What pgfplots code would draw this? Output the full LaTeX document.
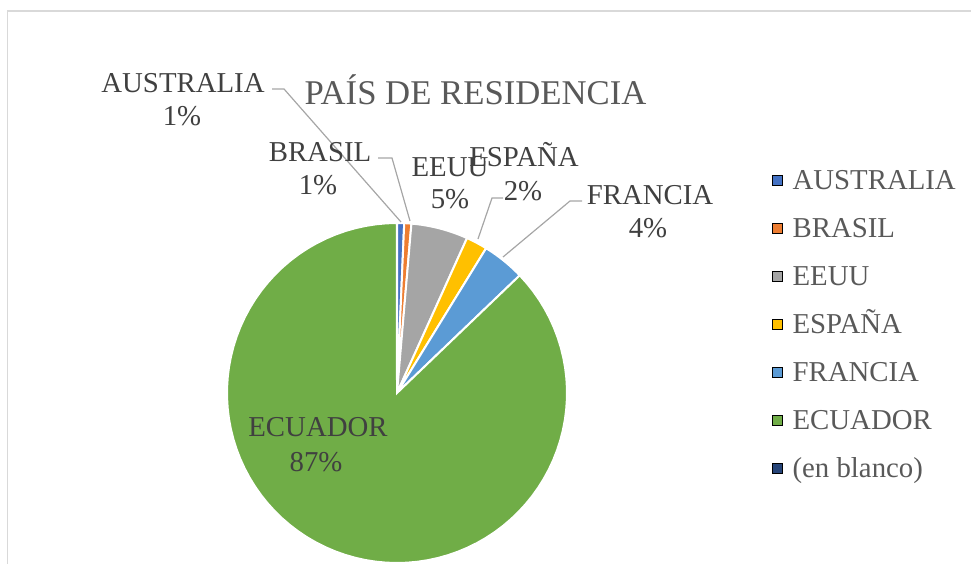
\documentclass[border=0pt]{standalone}
\usepackage{fontspec}
\setmainfont{Liberation Serif}
\usepackage{pgfplots}
\pgfplotsset{compat=1.18}
\definecolor{cAus}{HTML}{4472C4}
\definecolor{cBra}{HTML}{ED7D31}
\definecolor{cEEUU}{HTML}{A5A5A5}
\definecolor{cEsp}{HTML}{FFC000}
\definecolor{cFra}{HTML}{5B9BD5}
\definecolor{cEcu}{HTML}{70AD47}
\definecolor{cBla}{HTML}{264478}
\definecolor{labtext}{HTML}{404040}
\definecolor{legtext}{HTML}{595959}
\definecolor{leader}{HTML}{A6A6A6}
\definecolor{cFrame}{HTML}{D9D9D9}
% total count of respondents
\def\total{148}
% #1 = cumulative count before slice, #2 = count of slice, #3 = colour
\newcommand\slice[3]{%
  \addplot[fill=#3, draw=white, line width=2pt, domain=0:1, samples=90, forget plot]
    ({397+170*cos(90-(#1+#2*x)*360/\total)}, {171+170*sin(90-(#1+#2*x)*360/\total)})
    -- (axis cs:397,171) -- cycle;
}
\pgfplotsset{sq/.style={legend image code/.code={\fill[##1] (0pt,-5pt) rectangle (10pt,5pt);}}}
\tikzset{lab/.style={font=\fontsize{28.8}{34}\selectfont, text=labtext, inner sep=0pt, anchor=base}}
\begin{document}
\begin{tikzpicture}
\begin{axis}[
  scale only axis, width=971pt, height=564pt,
  xmin=0, xmax=971, ymin=0, ymax=564,
  hide axis, clip=false,
  legend cell align=left,
  legend style={at={(axis cs:772,393)}, anchor=north west, draw=none, fill=none,
    inner sep=0pt, row sep=30pt, column sep=10pt,
    nodes={inner sep=0pt, text height=18pt, text depth=0pt,
      font=\fontsize{28.8}{34}\selectfont, text=legtext}},
]
\coordinate (BL) at (axis cs:0,0);
\coordinate (TR) at (axis cs:971,564);
% frame
\addplot[cFrame, line width=1.2pt, forget plot] coordinates {(7.5,0) (7.5,553) (971,553)};
% pie slices (counts)
\slice{0}{1}{cAus}
\slice{1}{1}{cBra}
\slice{2}{8}{cEEUU}
\slice{10}{3}{cEsp}
\slice{13}{6}{cFra}
\slice{19}{129}{cEcu}
% leader lines
\addplot[leader, line width=1.2pt, forget plot] coordinates {(272,475) (284,475) (401,342)};
\addplot[leader, line width=1.2pt, forget plot] coordinates {(378,406) (392,406) (410,343)};
\addplot[leader, line width=1.2pt, forget plot] coordinates {(503,366) (492,366) (478,325)};
\addplot[leader, line width=1.2pt, forget plot] coordinates {(582,363) (570,363) (503,307)};
% data labels
\node[lab] at (axis cs:183,471) {AUSTRALIA};
\node[lab] at (axis cs:182,438) {1\%};
\node[lab] at (axis cs:320,402) {BRASIL};
\node[lab] at (axis cs:318,369) {1\%};
\node[lab] at (axis cs:450,387) {EEUU};
\node[lab] at (axis cs:450,355) {5\%};
\node[lab] at (axis cs:524,397) {ESPAÑA};
\node[lab] at (axis cs:523,363) {2\%};
\node[lab] at (axis cs:650,359) {FRANCIA};
\node[lab] at (axis cs:648,326) {4\%};
\node[lab] at (axis cs:318,127) {ECUADOR};
\node[lab] at (axis cs:316,92) {87\%};
% title
\node[font=\fontsize{34.7}{40}\selectfont, text=legtext, inner sep=0pt, anchor=base] at (axis cs:475.5,459) {PAÍS DE RESIDENCIA};
% legend
\addlegendimage{sq, fill=cAus}\addlegendentry{AUSTRALIA}
\addlegendimage{sq, fill=cBra}\addlegendentry{BRASIL}
\addlegendimage{sq, fill=cEEUU}\addlegendentry{EEUU}
\addlegendimage{sq, fill=cEsp}\addlegendentry{ESPAÑA}
\addlegendimage{sq, fill=cFra}\addlegendentry{FRANCIA}
\addlegendimage{sq, fill=cEcu}\addlegendentry{ECUADOR}
\addlegendimage{sq, fill=cBla}\addlegendentry{(en blanco)}
\end{axis}
\pgfresetboundingbox
\path[use as bounding box] (BL) rectangle (TR);
\end{tikzpicture}
\end{document}
